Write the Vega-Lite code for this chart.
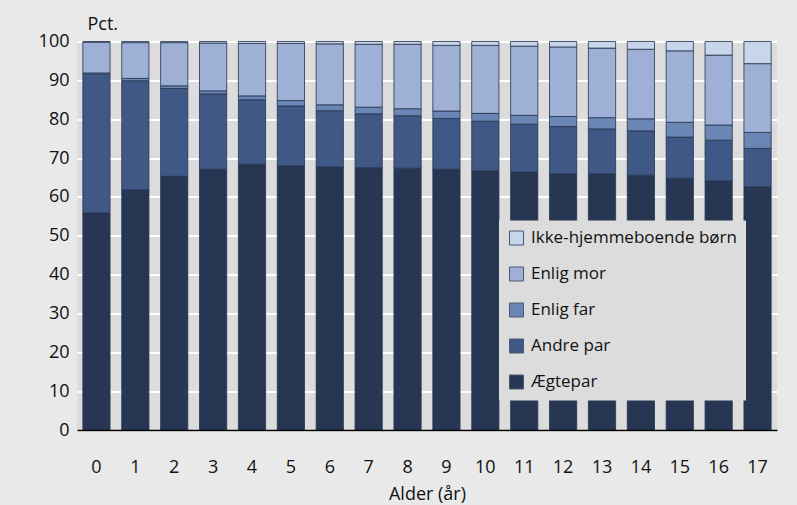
{
  "$schema": "https://vega.github.io/schema/vega-lite/v6.json",
  "width": 700,
  "height": 388.5,
  "autosize": {"type": "none"},
  "padding": {"left": 77, "top": 41.5, "right": 20, "bottom": 75},
  "background": "#e9e9e9",
  "config": {
    "font": "Open Sans",
    "view": {"fill": "#dcdcdc", "stroke": null}
  },
  "data": {
    "values": [
      {"age": 0, "Ægtepar": 55.9, "Andre par": 35.7, "Enlig far": 0.3, "Enlig mor": 7.9, "Ikke-hjemmeboende børn": 0.2},
      {"age": 1, "Ægtepar": 61.8, "Andre par": 28.1, "Enlig far": 0.6, "Enlig mor": 9.2, "Ikke-hjemmeboende børn": 0.3},
      {"age": 2, "Ægtepar": 65.3, "Andre par": 22.6, "Enlig far": 0.7, "Enlig mor": 11.1, "Ikke-hjemmeboende børn": 0.3},
      {"age": 3, "Ægtepar": 67.1, "Andre par": 19.4, "Enlig far": 0.8, "Enlig mor": 12.3, "Ikke-hjemmeboende børn": 0.4},
      {"age": 4, "Ægtepar": 68.4, "Andre par": 16.6, "Enlig far": 1.0, "Enlig mor": 13.5, "Ikke-hjemmeboende børn": 0.5},
      {"age": 5, "Ægtepar": 68.0, "Andre par": 15.4, "Enlig far": 1.4, "Enlig mor": 14.7, "Ikke-hjemmeboende børn": 0.5},
      {"age": 6, "Ægtepar": 67.7, "Andre par": 14.5, "Enlig far": 1.5, "Enlig mor": 15.7, "Ikke-hjemmeboende børn": 0.6},
      {"age": 7, "Ægtepar": 67.5, "Andre par": 13.9, "Enlig far": 1.7, "Enlig mor": 16.2, "Ikke-hjemmeboende børn": 0.7},
      {"age": 8, "Ægtepar": 67.4, "Andre par": 13.5, "Enlig far": 1.8, "Enlig mor": 16.6, "Ikke-hjemmeboende børn": 0.7},
      {"age": 9, "Ægtepar": 67.1, "Andre par": 13.1, "Enlig far": 1.9, "Enlig mor": 16.9, "Ikke-hjemmeboende børn": 1.0},
      {"age": 10, "Ægtepar": 66.7, "Andre par": 12.8, "Enlig far": 2.0, "Enlig mor": 17.5, "Ikke-hjemmeboende børn": 1.0},
      {"age": 11, "Ægtepar": 66.4, "Andre par": 12.3, "Enlig far": 2.3, "Enlig mor": 17.8, "Ikke-hjemmeboende børn": 1.2},
      {"age": 12, "Ægtepar": 65.9, "Andre par": 12.2, "Enlig far": 2.6, "Enlig mor": 17.9, "Ikke-hjemmeboende børn": 1.4},
      {"age": 13, "Ægtepar": 65.9, "Andre par": 11.6, "Enlig far": 2.9, "Enlig mor": 17.9, "Ikke-hjemmeboende børn": 1.7},
      {"age": 14, "Ægtepar": 65.6, "Andre par": 11.4, "Enlig far": 3.1, "Enlig mor": 17.9, "Ikke-hjemmeboende børn": 2.0},
      {"age": 15, "Ægtepar": 64.8, "Andre par": 10.6, "Enlig far": 3.8, "Enlig mor": 18.4, "Ikke-hjemmeboende børn": 2.4},
      {"age": 16, "Ægtepar": 64.1, "Andre par": 10.5, "Enlig far": 3.9, "Enlig mor": 18.0, "Ikke-hjemmeboende børn": 3.5},
      {"age": 17, "Ægtepar": 62.6, "Andre par": 9.9, "Enlig far": 4.1, "Enlig mor": 17.7, "Ikke-hjemmeboende børn": 5.7}
    ]
  },
  "transform": [
    {"fold": ["Ægtepar", "Andre par", "Enlig far", "Enlig mor", "Ikke-hjemmeboende børn"], "as": ["type", "pct"]}
  ],
  "mark": {"type": "bar", "stroke": "#26354f", "strokeWidth": 1, "strokeOpacity": 0.8},
  "encoding": {
    "x": {
      "field": "age",
      "type": "ordinal",
      "scale": {"paddingInner": 0.3, "paddingOuter": 0.15},
      "axis": {
        "title": "Alder (år)",
        "titleFontSize": 18,
        "titleFontWeight": "normal",
        "titleColor": "#111111",
        "titleBaseline": "alphabetic",
        "titleY": 69,
        "labelAngle": 0,
        "labelFontSize": 18,
        "labelColor": "#111111",
        "labelBaseline": "alphabetic",
        "labelPadding": 42,
        "ticks": false,
        "tickSize": 0,
        "domainColor": "#000000",
        "domainWidth": 1.5,
        "grid": false,
        "zindex": 1
      }
    },
    "y": {
      "field": "pct",
      "type": "quantitative",
      "stack": "zero",
      "scale": {"domain": [0, 100], "nice": false},
      "axis": {
        "title": "Pct.",
        "titleAngle": 0,
        "titleAlign": "left",
        "titleBaseline": "alphabetic",
        "titleX": 10,
        "titleY": -12.5,
        "titleFontSize": 18,
        "titleFontWeight": "normal",
        "titleColor": "#111111",
        "values": [0, 10, 20, 30, 40, 50, 60, 70, 80, 90, 100],
        "labelFontSize": 18,
        "labelColor": "#111111",
        "labelPadding": 8,
        "ticks": false,
        "tickSize": 0,
        "domain": false,
        "grid": true,
        "gridColor": "#ffffff",
        "gridWidth": 2
      }
    },
    "order": {"field": "age", "type": "quantitative"},
    "color": {
      "field": "type",
      "type": "nominal",
      "sort": ["Ikke-hjemmeboende børn", "Enlig mor", "Enlig far", "Andre par", "Ægtepar"],
      "scale": {
        "domain": ["Ikke-hjemmeboende børn", "Enlig mor", "Enlig far", "Andre par", "Ægtepar"],
        "range": ["#c7d6ea", "#9eb0d5", "#6a86b5", "#3f5885", "#263653"]
      },
      "legend": {
        "title": null,
        "orient": "none",
        "legendX": 422,
        "legendY": 179,
        "fillColor": "#dcdcdc",
        "padding": 9,
        "symbolType": "square",
        "symbolSize": 196,
        "symbolStrokeColor": "#4d5870",
        "symbolStrokeWidth": 1,
        "symbolOpacity": 1,
        "labelFontSize": 17,
        "labelColor": "#111111",
        "labelOffset": 6,
        "labelLimit": 300,
        "rowPadding": 17
      }
    }
  }
}
